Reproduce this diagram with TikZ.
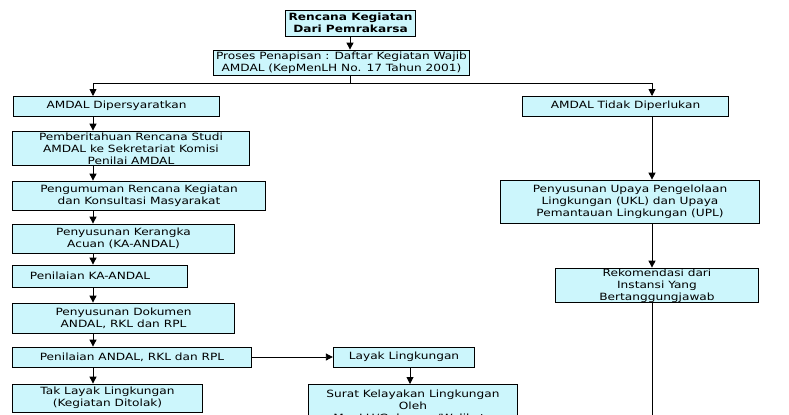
\documentclass[tikz,border=0pt]{standalone}
\usepackage{fontspec}
\usetikzlibrary{arrows.meta}
\setmainfont{DejaVu Sans}[FakeStretch=1.22]
\definecolor{boxfill}{HTML}{CCF6FC}
\begin{document}
\begin{tikzpicture}[x=1bp,y=-1bp,
  box/.style={draw=black,line width=0.9bp,fill=boxfill,font=\fontsize{10}{12}\selectfont,align=center,inner sep=0pt},
  arr/.style={-{Triangle[length=7bp,width=7bp]},line width=0.9bp}]
\useasboundingbox (0,0) rectangle (789,414);
\clip (0,0) rectangle (789,414);
\newcommand\bx[6]{\node[box,minimum width={#3-#1},minimum height={#4-#2}] (#5) at ({(#1+#3)/2},{(#2+#4)/2}) {#6};}
\bx{285}{10}{416}{36}{top}{\bfseries Rencana Kegiatan\\\bfseries Dari Pemrakarsa}
\bx{213}{50}{470}{75}{pro}{Proses Penapisan : Daftar Kegiatan Wajib\\AMDAL (KepMenLH No. 17 Tahun 2001)}
\bx{13}{96}{220}{116}{dip}{AMDAL Dipersyaratkan}
\bx{522}{96}{729}{116}{tid}{AMDAL Tidak Diperlukan}
\bx{12}{131}{250}{166}{pem}{Pemberitahuan Rencana Studi\\AMDAL ke Sekretariat Komisi\\Penilai AMDAL}
\bx{12}{181}{266}{210}{peng}{Pengumuman Rencana Kegiatan\\dan Konsultasi Masyarakat}
\bx{12}{224}{235}{253}{ker}{Penyusunan Kerangka\\Acuan (KA-ANDAL)}
\bx{12}{265}{188}{287}{pka}{Penilaian KA-ANDAL\hspace{20bp}}
\bx{12}{303}{235}{333}{dok}{Penyusunan Dokumen\\ANDAL, RKL dan RPL}
\bx{12}{347}{252}{367}{pan}{Penilaian ANDAL, RKL dan RPL}
\bx{333}{347}{475}{367}{lay}{Layak Lingkungan}
\bx{12}{384}{203}{412}{tak}{Tak Layak Lingkungan\\(Kegiatan Ditolak)}
\node[box,minimum width=209bp,minimum height=44bp,anchor=north west] (sur) at (308,384) {Surat Kelayakan Lingkungan\\Oleh\\MenLH/Gubernur/Walikota};
\bx{500}{180}{760}{224}{upa}{Penyusunan Upaya Pengelolaan\\Lingkungan  (UKL) dan Upaya\\Pemantauan Lingkungan (UPL)}
\bx{555}{268}{759}{303}{rek}{Rekomendasi dari\\Instansi Yang\\Bertanggungjawab}
\coordinate (j) at (350,83);
\coordinate (end) at (652,420);
\draw[arr] (top.south -| j) -- (pro.north -| j);
\draw[line width=0.9bp] (pro.south -| j) -- (j);
\draw[arr] (j) -| (93,96);
\draw[arr] (j) -| (652,96);
\foreach \a/\b in {dip/pem,pem/peng,peng/ker,ker/pka,pka/dok,dok/pan,pan/tak}
  \draw[arr] (\a.south -| 93,0) -- (\b.north -| 93,0);
\draw[arr] (tid.south -| 652,0) -- (upa.north -| 652,0);
\draw[arr] (upa.south -| 652,0) -- (rek.north -| 652,0);
\draw[line width=0.9bp] (rek.south -| end) -- (end);
\draw[arr] (pan) -- (lay);
\draw[arr] (lay.south -| 410,0) -- (sur.north -| 410,0);
\end{tikzpicture}
\end{document}
